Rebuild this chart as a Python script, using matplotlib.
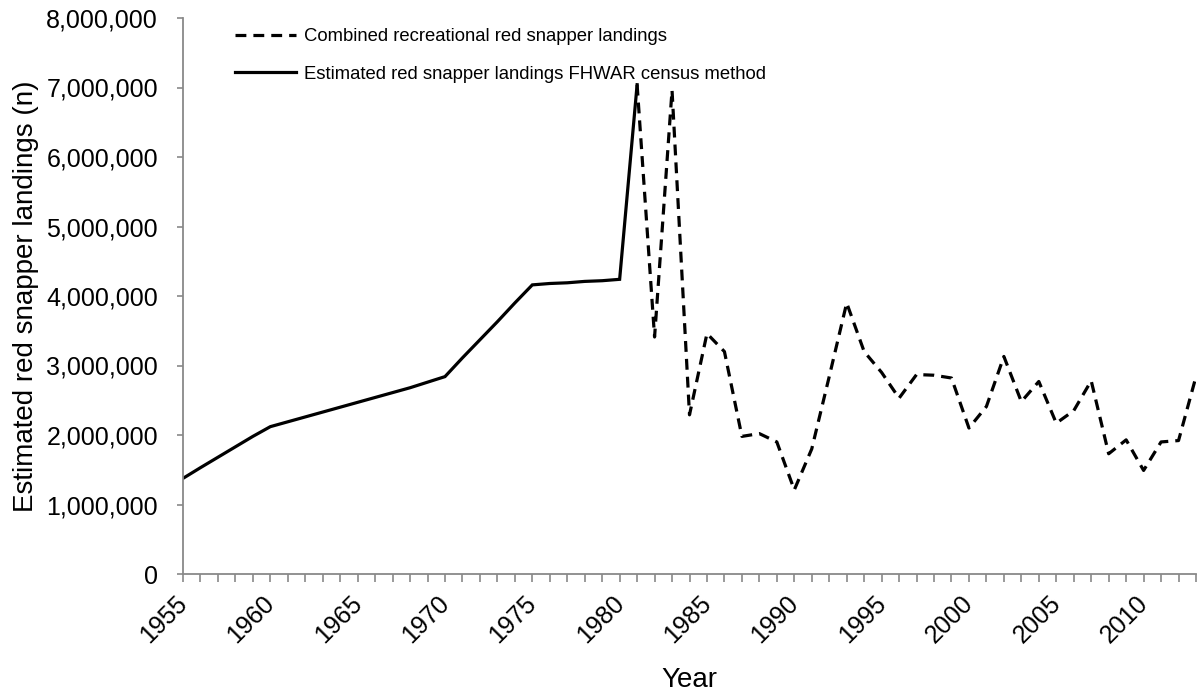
import matplotlib
matplotlib.use("Agg")
import matplotlib.pyplot as plt
import matplotlib.transforms as mtransforms
from matplotlib.ticker import FuncFormatter, MultipleLocator

plt.rcParams['font.family'] = ['Liberation Sans', 'DejaVu Sans']

# FHWAR census method estimates (1955-1981)
fhwar_years = list(range(1955, 1982))
fhwar_values = [1376000, 1530000, 1680000, 1830000, 1980000, 2120000,
                2190000, 2260000, 2330000, 2400000, 2470000, 2540000,
                2610000, 2680000, 2760000, 2840000, 3110000, 3370000,
                3630000, 3900000, 4160000, 4180000, 4190000, 4210000,
                4220000, 4240000, 7040000]

# Combined recreational landings (1981-2013)
comb_years = list(range(1981, 2014))
comb_values = [7040000, 3410000, 6960000, 2290000, 3460000, 3200000,
               1980000, 2020000, 1900000, 1210000, 1800000, 2840000,
               3900000, 3200000, 2900000, 2530000, 2870000, 2860000,
               2820000, 2100000, 2410000, 3130000, 2480000, 2770000,
               2170000, 2350000, 2780000, 1730000, 1930000, 1490000,
               1900000, 1920000, 2840000]

label_comb = "Combined recreational red snapper landings"
label_fhwar = "Estimated red snapper landings FHWAR census method"

gray = "#898989"

fig = plt.figure(figsize=(12.01, 6.94), dpi=100)
ax = fig.add_axes([183 / 1201, 1 - 574 / 694, (1196 - 183) / 1201, (574 - 18) / 694])

ax.plot(comb_years, comb_values, color="black", lw=2.3,
        linestyle=(0, (3.4, 2.2)), label=label_comb)
ax.plot(fhwar_years, fhwar_values, color="black", lw=2.3,
        linestyle="-", label=label_fhwar, solid_joinstyle="miter")

ax.set_xlim(1955, 2013)
ax.set_ylim(0, 8000000)

ax.yaxis.set_major_locator(MultipleLocator(1000000))
ax.yaxis.set_major_formatter(FuncFormatter(lambda v, p: f"{int(v):,}"))
ax.xaxis.set_major_locator(MultipleLocator(5))
ax.xaxis.set_minor_locator(MultipleLocator(1))

for s in ["top", "right"]:
    ax.spines[s].set_visible(False)
for s in ["left", "bottom"]:
    ax.spines[s].set_color(gray)
    ax.spines[s].set_linewidth(1.3)

ax.tick_params(axis="y", which="major", direction="out", length=4, width=1.2,
               color=gray, labelsize=18, pad=14)
ax.tick_params(axis="x", which="both", direction="out", length=5.5, width=1.2,
               color=gray, labelsize=18, pad=4)
offset = mtransforms.ScaledTranslation(-8 / 100, -4 / 100, fig.dpi_scale_trans)
for lab in ax.get_xticklabels():
    lab.set_rotation(45)
    lab.set_ha("right")
    lab.set_rotation_mode("anchor")
    lab.set_transform(lab.get_transform() + offset)

ax.set_xlabel("Year", fontsize=20, labelpad=14)
ax.set_ylabel("Estimated red snapper landings (n)", fontsize=20, labelpad=5.5)

leg = ax.legend(loc="upper left", bbox_to_anchor=(0.051, 0.9815), frameon=False,
                fontsize=13.3, handlelength=3.3, handletextpad=0.43,
                labelspacing=1.11, borderpad=0, borderaxespad=0)

fig.savefig("out.png", dpi=100)
